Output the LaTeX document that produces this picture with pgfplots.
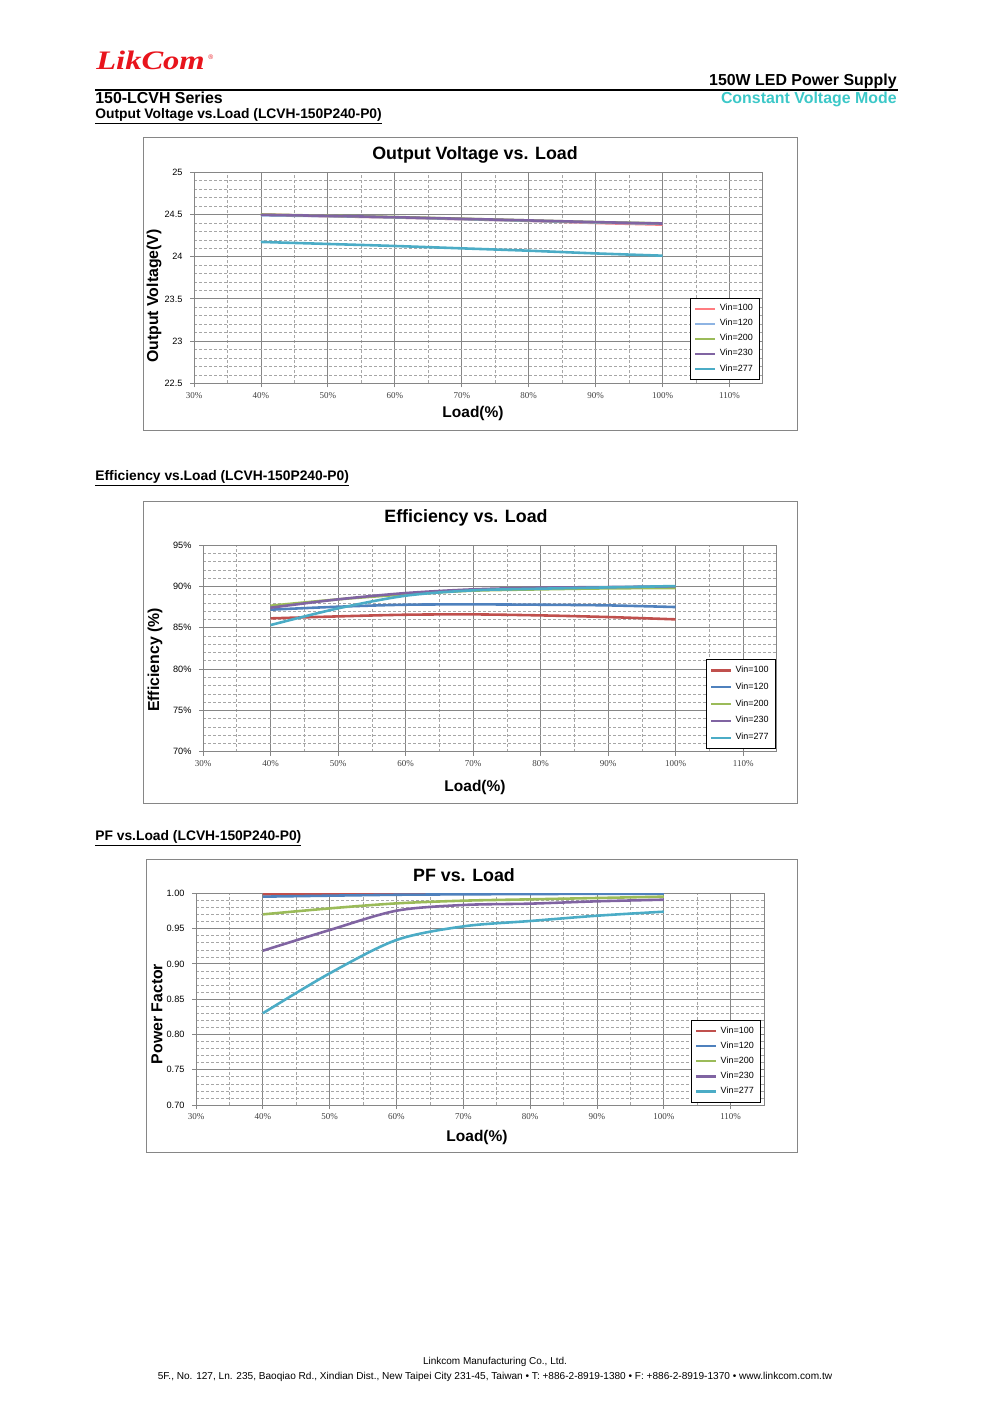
\documentclass[border=0pt]{standalone}
\usepackage{pgfplots}
\pgfplotsset{compat=1.18}
\usepackage{graphicx}
\usepackage{fontspec}
\setmainfont{Liberation Sans}
\newfontfamily\serifx{Liberation Serif}

\definecolor{gridmaj}{HTML}{868686}
\definecolor{gridmin}{HTML}{A6A6A6}
\definecolor{ticktext}{HTML}{404040}
\definecolor{logored}{HTML}{E8141C}
\definecolor{turq}{HTML}{3CC8C8}
\definecolor{cPink}{HTML}{FF7C80}
\definecolor{cLBlue}{HTML}{8EB4E3}
\definecolor{cRed}{HTML}{C0504D}
\definecolor{cBlue}{HTML}{4F81BD}
\definecolor{cGreen}{HTML}{9BBB59}
\definecolor{cPurple}{HTML}{8064A2}
\definecolor{cCyan}{HTML}{4BACC6}

\pgfplotsset{
  lkax/.style={
    scale only axis, anchor=south west,
    xmin=30, xmax=115, xtick={30,40,...,110}, minor x tick num=1,
    grid=both,
    major grid style={draw=gridmaj, line width=0.5pt},
    minor grid style={draw=gridmin, line width=0.35pt, dash pattern=on 1.8pt off 1.2pt},
    axis line style={draw=gridmaj, line width=0.6pt},
    tick pos=left, tick align=outside,
    major tick length=2.4pt, minor tick length=0pt,
    tick style={draw=gridmaj, line width=0.5pt},
    /pgf/number format/assume math mode=true,
    xticklabel={\pgfmathprintnumber{\tick}\%},
    xticklabel style={font=\serifx\fontsize{5.4}{6}\selectfont, text=ticktext, yshift=0.6pt},
    yticklabel style={font=\fontsize{5.5}{6}\selectfont, xshift=-1pt},
    legend cell align=left,
    legend style={font=\fontsize{5.4}{6}\selectfont, draw=black, line width=0.6pt,
      anchor=south east, inner xsep=2pt, inner ysep=1.8pt,
      /tikz/every even column/.append style={column sep=0pt}},
    legend image code/.code={\draw[#1, line width=1.35pt] (0pt,0pt) -- (12pt,0pt);},
    every axis plot/.append style={line width=1.55pt, smooth, no markers},
  }
}

\begin{document}
\begin{tikzpicture}
\begin{scope}[x=0.6pt,y=-0.6pt]
  \path (0,0) rectangle (992,1403);
  % header
  \node[anchor=base west, inner sep=0pt, text=logored] at (96,70)
    {\scalebox{1.22}[1]{\serifx\fontsize{16}{18}\selectfont\bfseries\itshape LikCom}};
  \node[anchor=base west, inner sep=0pt, text=logored] at (208,60)
    {\fontsize{4}{5}\selectfont ®};
  \draw[line width=1.2pt] (95,90) -- (898,90);
  \node[anchor=base east, inner sep=0pt] at (897,86)
    {\fontsize{9.55}{11}\selectfont\bfseries 150W LED Power Supply};
  \node[anchor=base west, inner sep=0pt] at (95,103.5)
    {\fontsize{9.55}{11}\selectfont\bfseries 150-LCVH Series};
  \node[anchor=base east, inner sep=0pt, text=turq] at (897,103.5)
    {\fontsize{9.55}{11}\selectfont\bfseries Constant Voltage Mode};
  \node[anchor=base west, inner sep=0pt] at (95,118.5)
    {\fontsize{8.3}{9}\selectfont\bfseries\underline{Output Voltage vs.Load (LCVH-150P240-P0)}};
  \node[anchor=base west, inner sep=0pt] at (95,480)
    {\fontsize{8.3}{9}\selectfont\bfseries\underline{Efficiency vs.Load (LCVH-150P240-P0)}};
  \node[anchor=base west, inner sep=0pt] at (95,840)
    {\fontsize{8.3}{9}\selectfont\bfseries\underline{PF vs.Load (LCVH-150P240-P0)}};
  % chart frames
  \draw[gridmaj, line width=0.6pt] (143,138) rectangle (797,430);
  \draw[gridmaj, line width=0.6pt] (143,501) rectangle (797,803);
  \draw[gridmaj, line width=0.6pt] (146,859) rectangle (797,1152);
  % chart titles and labels
  \node at (475,155) {\fontsize{10.7}{12}\selectfont\bfseries Output Voltage vs. Load};
  \node at (466,518) {\fontsize{10.7}{12}\selectfont\bfseries Efficiency vs. Load};
  \node at (464,875) {\fontsize{10.7}{12}\selectfont\bfseries PF vs. Load};
  \node at (473,413) {\fontsize{9.3}{11}\selectfont\bfseries Load(\%)};
  \node at (475,787) {\fontsize{9.3}{11}\selectfont\bfseries Load(\%)};
  \node at (477,1137) {\fontsize{9.3}{11}\selectfont\bfseries Load(\%)};
  \node[rotate=90] at (154,296) {\fontsize{9.5}{11}\selectfont\bfseries Output Voltage(V)};
  \node[rotate=90] at (155,660) {\fontsize{9.5}{11}\selectfont\bfseries Efficiency (\%)};
  \node[rotate=90] at (157,1014) {\fontsize{9.5}{11}\selectfont\bfseries Power Factor};
  % footer
  \node[anchor=base, inner sep=0pt] at (495,1364)
    {\fontsize{6}{7}\selectfont Linkcom Manufacturing Co., Ltd.};
  \node[anchor=base, inner sep=0pt] at (495,1379)
    {\fontsize{6.05}{7}\selectfont 5F., No. 127, Ln. 235, Baoqiao Rd., Xindian Dist., New Taipei City 231-45, Taiwan • T: +886-2-8919-1380 • F: +886-2-8919-1370 • www.linkcom.com.tw};
  \coordinate (A1) at (194,383.3);
  \coordinate (A2) at (203,751.7);
  \coordinate (A3) at (196,1105);
\end{scope}

% Output voltage vs load
\begin{axis}[lkax, at={(A1)}, width=341.4pt, height=126.6pt,
  ymin=22.5, ymax=25, ytick={22.5,23,23.5,24,24.5,25}, minor y tick num=4,
  legend style={at={(0.995,0.014)}, row sep=-0.4pt}]
\addplot[cPink] coordinates {(40,24.50) (50,24.48) (60,24.465) (70,24.445) (80,24.425) (90,24.40) (100,24.38)};
\addplot[cLBlue] coordinates {(40,24.49) (50,24.48) (60,24.465) (70,24.445) (80,24.425) (90,24.405) (100,24.39)};
\addplot[cGreen] coordinates {(40,24.50) (50,24.485) (60,24.47) (70,24.45) (80,24.43) (90,24.41) (100,24.395)};
\addplot[cPurple] coordinates {(40,24.496) (50,24.484) (60,24.468) (70,24.449) (80,24.43) (90,24.41) (100,24.393)};
\addplot[cCyan] coordinates {(40,24.175) (50,24.151) (60,24.127) (70,24.099) (80,24.071) (90,24.039) (100,24.012)};
\legend{Vin=100,Vin=120,Vin=200,Vin=230,Vin=277}
\end{axis}

% Efficiency vs load
\begin{axis}[lkax, at={(A2)}, width=344.4pt, height=124pt,
  ymin=70, ymax=95, ytick={70,75,...,95}, minor y tick num=4,
  yticklabel={\pgfmathprintnumber{\tick}\%},
  legend style={at={(0.998,0.013)}, row sep=0.65pt}]
\addplot[cRed] coordinates {(40,86.13) (50,86.37) (60,86.57) (70,86.61) (80,86.49) (90,86.29) (100,86.01)};
\addplot[cBlue] coordinates {(40,87.18) (50,87.54) (60,87.78) (70,87.82) (80,87.78) (90,87.70) (100,87.50)};
\addplot[cGreen] coordinates {(40,87.66) (50,88.43) (60,89.03) (70,89.48) (80,89.64) (90,89.76) (100,89.80)};
\addplot[cPurple] coordinates {(40,87.42) (50,88.43) (60,89.19) (70,89.64) (80,89.84) (90,89.92) (100,90.00)};
\addplot[cCyan] coordinates {(40,85.32) (50,87.34) (60,88.87) (70,89.52) (80,89.72) (90,89.88) (100,90.04)};
\legend{Vin=100,Vin=120,Vin=200,Vin=230,Vin=277}
\end{axis}

% PF vs load
\begin{axis}[lkax, at={(A3)}, width=340.8pt, height=127pt,
  ymin=0.7, ymax=1.0, ytick={0.70,0.75,0.80,0.85,0.90,0.95,1.00}, minor y tick num=4,
  yticklabel style={/pgf/number format/.cd, fixed, fixed zerofill, precision=2},
  legend style={at={(0.9947,0.01)}, row sep=-0.35pt}]
\addplot[cRed] coordinates {(40,0.9986) (50,0.9992) (60,0.9996) (70,0.9998) (80,0.9999) (90,1.0) (100,1.0)};
\addplot[cBlue] coordinates {(40,0.9953) (50,0.9967) (60,0.9980) (70,0.9986) (80,0.9990) (90,0.9993) (100,0.9995)};
\addplot[cGreen] coordinates {(40,0.9702) (50,0.9787) (60,0.9858) (70,0.9896) (80,0.9915) (90,0.9934) (100,0.9953)};
\addplot[cPurple] coordinates {(40,0.9187) (50,0.9480) (60,0.9754) (70,0.9835) (80,0.9854) (90,0.9887) (100,0.9910)};
\addplot[cCyan] coordinates {(40,0.8300) (50,0.8866) (60,0.9339) (70,0.9532) (80,0.9608) (90,0.9683) (100,0.9740)};
\legend{Vin=100,Vin=120,Vin=200,Vin=230,Vin=277}
\end{axis}
\end{tikzpicture}
\end{document}
